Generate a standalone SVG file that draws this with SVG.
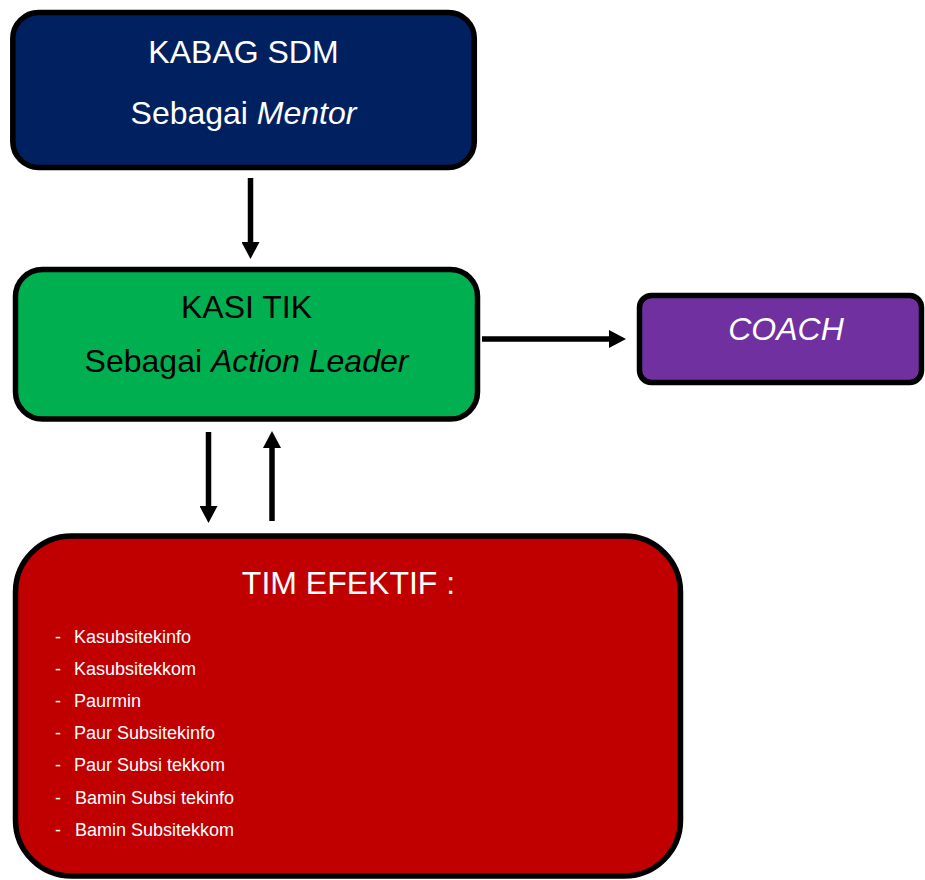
<svg xmlns="http://www.w3.org/2000/svg" width="925" height="880" viewBox="0 0 925 880">
<style>
.box{stroke:#000;stroke-width:5.5}
.t{font-family:"Liberation Sans",Arial,sans-serif;font-size:32px;text-anchor:middle}
.w{fill:#fff}
.k{fill:#000}
.li{font-family:"Liberation Sans",Arial,sans-serif;font-size:18px;fill:#fff}
.c{stroke:#000;stroke-width:5.5;fill:none}
</style>
<defs>
<marker id="ah" markerUnits="userSpaceOnUse" markerWidth="17" markerHeight="18" refX="0" refY="9" orient="auto" viewBox="0 0 17 18">
<path d="M0,0 L17,9 L0,18 z" fill="#000"/>
</marker>
</defs>
<rect width="925" height="880" fill="#fff"/>
<g id="kabag">
<rect class="box" x="12.8" y="12.5" width="461.5" height="155" rx="26" fill="#002060"/>
<text class="t w" x="243.5" y="63">KABAG SDM</text>
<text class="t w" x="243.5" y="124">Sebagai <tspan font-style="italic">Mentor</tspan></text>
</g>
<g id="kasi">
<rect class="box" x="15.5" y="269.5" width="462" height="149.5" rx="27" fill="#00B050"/>
<text class="t k" x="246.5" y="318">KASI TIK</text>
<text class="t k" x="246.5" y="372">Sebagai <tspan font-style="italic">Action Leader</tspan></text>
</g>
<g id="coach">
<rect class="box" x="639.5" y="295.5" width="282" height="87" rx="12" fill="#7030A0"/>
<text class="t w" x="786" y="340" font-style="italic">COACH</text>
</g>
<g id="tim">
<rect class="box" x="15.5" y="536" width="665" height="340" rx="56" fill="#C00000"/>
<text class="t w" x="348.5" y="594">TIM EFEKTIF :</text>
<g class="li">
<text x="55" y="643">-</text><text x="74" y="643">Kasubsitekinfo</text>
<text x="55" y="675">-</text><text x="74" y="675">Kasubsitekkom</text>
<text x="55" y="707">-</text><text x="74" y="707">Paurmin</text>
<text x="55" y="739">-</text><text x="74" y="739">Paur Subsitekinfo</text>
<text x="55" y="771">-</text><text x="74" y="771">Paur Subsi tekkom</text>
<text x="55" y="804">-</text><text x="75" y="804">Bamin Subsi tekinfo</text>
<text x="55" y="836">-</text><text x="75" y="836">Bamin Subsitekkom</text>
</g>
</g>
<g id="connectors">
<line class="c" x1="250.5" y1="178" x2="250.5" y2="242" marker-end="url(#ah)"/>
<line class="c" x1="482" y1="339" x2="609" y2="339" marker-end="url(#ah)"/>
<line class="c" x1="208.5" y1="432" x2="208.5" y2="506" marker-end="url(#ah)"/>
<line class="c" x1="272" y1="521" x2="272" y2="448" marker-end="url(#ah)"/>
</g>
</svg>
